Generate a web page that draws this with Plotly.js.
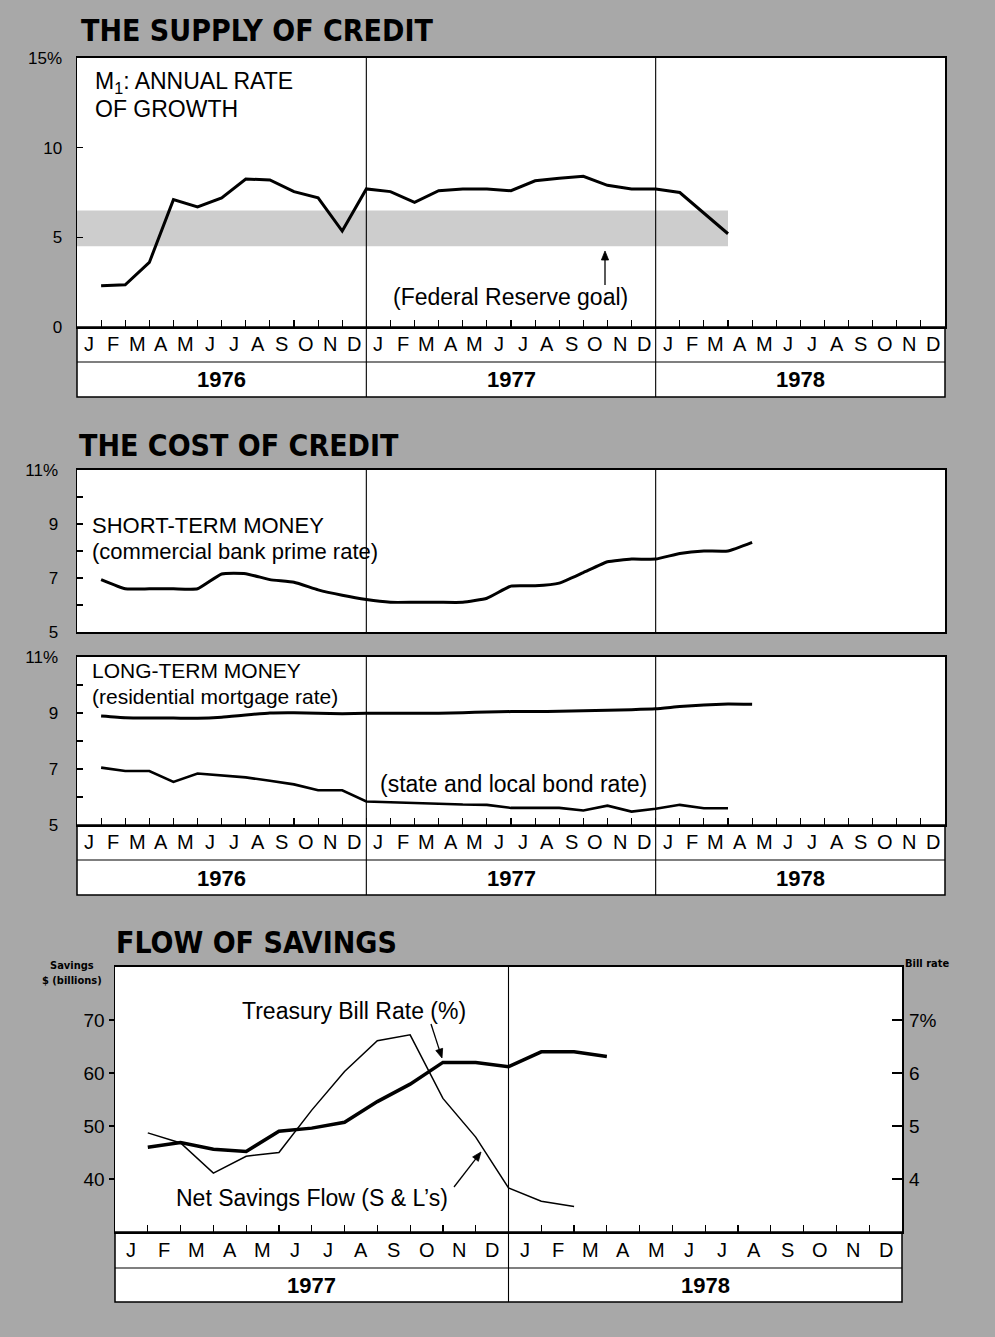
<!DOCTYPE html>
<html>
<head>
<meta charset="utf-8">
<script src="https://cdn.plot.ly/plotly-3.0.1.min.js"></script>
<style>html,body{margin:0;padding:0;background:#a8a8a8;}#chart{width:995px;height:1337px;}</style>
</head>
<body>
<div id="chart"></div>
<script>
// ---------- DATA ----------
const MONTHS = ['J','F','M','A','M','J','J','A','S','O','N','D'];
const YEARS_CREDIT = ['1976','1977','1978'];
const YEARS_SAVINGS = ['1977','1978'];

// M1 annual rate of growth (%), monthly from Jan 1976
const M1_GROWTH = [2.3,2.35,3.6,7.1,6.7,7.2,8.25,8.2,7.55,7.2,5.35,7.7,
                   7.55,6.95,7.6,7.7,7.7,7.6,8.15,8.3,8.4,7.9,7.7,7.7,
                   7.5,6.35,5.2];
const FED_GOAL = [4.5, 6.5];

// Commercial bank prime rate (%), from Jan 1976
const PRIME_RATE = [6.94,6.6,6.6,6.6,6.6,7.15,7.16,6.94,6.84,6.56,6.36,6.2,
                    6.1,6.1,6.1,6.1,6.25,6.7,6.71,6.81,7.2,7.6,7.7,7.7,
                    7.91,8.0,8.0,8.32];
// Residential mortgage rate (%), from Jan 1976
const MORTGAGE_RATE = [8.89,8.83,8.82,8.82,8.81,8.85,8.93,9.0,9.01,8.99,8.97,8.99,
                       8.99,8.99,8.99,9.01,9.04,9.05,9.05,9.06,9.08,9.1,9.12,9.15,
                       9.23,9.29,9.32,9.31];
// State and local bond rate (%), from Jan 1976
const BOND_RATE = [7.05,6.93,6.93,6.54,6.84,6.78,6.7,6.58,6.45,6.24,6.24,5.84,
                   5.82,5.78,5.76,5.73,5.72,5.61,5.61,5.61,5.52,5.69,5.48,5.58,
                   5.72,5.6,5.6];

// Flow of savings, from Jan 1977
const BILL_RATE = [4.6,4.69,4.56,4.52,4.9,4.96,5.07,5.46,5.79,6.2,6.2,6.12,
                   6.4,6.4,6.31];
const SAVINGS_FLOW = [48.7,46.8,41.1,44.3,45.0,53.0,60.3,66.1,67.2,55.2,47.9,38.3,
                      35.8,34.8];

// ---------- LAYOUT HELPERS ----------
const W = 995, H = 1337;
const fx = px => px / W;
const fy = py => 1 - py / H;
const FONT = 'Liberation Sans, Arial, sans-serif';
const COND = 'DejaVu Sans Condensed, Liberation Sans, sans-serif';
const endOfMonth = arr => arr.map((_, i) => i + 1);

function xa(domain, anchor, n, withTicks) {
  return {
    domain: domain, anchor: anchor, range: [0, n],
    tickmode: 'array', tickvals: Array.from({length: n + 1}, (_, i) => i),
    showticklabels: false, ticks: withTicks ? 'inside' : '', ticklen: 7, tickwidth: 1.2, tickcolor: '#000',
    showline: true, linewidth: 2, linecolor: '#000', mirror: true,
    showgrid: false, zeroline: false, fixedrange: true
  };
}
function ya(domain, anchor, range, vals, text, opts) {
  return Object.assign({
    domain: domain, anchor: anchor, range: range,
    tickmode: 'array', tickvals: vals, ticktext: text,
    ticks: 'inside', ticklen: 6, tickwidth: 1.2, tickcolor: '#000',
    tickfont: {family: FONT, size: 17, color: '#000'},
    showline: true, linewidth: 1.5, linecolor: '#000', mirror: true,
    showgrid: false, zeroline: false, fixedrange: true
  }, opts || {});
}
const minorInside = {tickmode: 'linear', tick0: 5, dtick: 1, ticks: 'inside', ticklen: 6, tickwidth: 1.2, tickcolor: '#000', showgrid: false};

const P1 = {l: 77, r: 945, t: 58, b: 327, rowMid: 344, rowSep: 362, yearMid: 380, rowBot: 397};
const P2 = {l: 77, r: 945, t: 470, b: 632};
const P3 = {l: 77, r: 945, t: 657, b: 825, rowMid: 842, rowSep: 860, yearMid: 878, rowBot: 895};
const P4 = {l: 115, r: 902, t: 967, b: 1232, rowMid: 1250, rowSep: 1268, yearMid: 1285, rowBot: 1302};

// ---------- TRACES ----------
const traces = [
  {x: endOfMonth(M1_GROWTH), y: M1_GROWTH, xaxis: 'x', yaxis: 'y', mode: 'lines',
   line: {color: '#000', width: 3}, hoverinfo: 'skip'},
  {x: endOfMonth(PRIME_RATE), y: PRIME_RATE, xaxis: 'x2', yaxis: 'y2', mode: 'lines',
   line: {color: '#000', width: 3, shape: 'spline', smoothing: 0.4}, hoverinfo: 'skip'},
  {x: endOfMonth(MORTGAGE_RATE), y: MORTGAGE_RATE, xaxis: 'x3', yaxis: 'y3', mode: 'lines',
   line: {color: '#000', width: 3, shape: 'spline', smoothing: 0.4}, hoverinfo: 'skip'},
  {x: endOfMonth(BOND_RATE), y: BOND_RATE, xaxis: 'x3', yaxis: 'y3', mode: 'lines',
   line: {color: '#000', width: 2.6}, hoverinfo: 'skip'},
  {x: endOfMonth(SAVINGS_FLOW), y: SAVINGS_FLOW, xaxis: 'x4', yaxis: 'y4', mode: 'lines',
   line: {color: '#000', width: 1.5}, hoverinfo: 'skip'},
  {x: endOfMonth(BILL_RATE), y: BILL_RATE, xaxis: 'x4', yaxis: 'y5', mode: 'lines',
   line: {color: '#000', width: 3.5}, hoverinfo: 'skip'}
];

// ---------- SHAPES ----------
const shapes = [];
// Federal Reserve goal band
shapes.push({type: 'rect', xref: 'x', yref: 'y', x0: 0, x1: M1_GROWTH.length,
  y0: FED_GOAL[0], y1: FED_GOAL[1], fillcolor: '#cdcdcd', line: {width: 0}, layer: 'below'});

function rows(P) {
  shapes.push({type: 'rect', xref: 'paper', yref: 'paper', x0: fx(P.l), x1: fx(P.r),
    y0: fy(P.rowBot), y1: fy(P.b), fillcolor: '#fff', line: {color: '#000', width: 1.5}, layer: 'below'});
  shapes.push({type: 'line', xref: 'paper', yref: 'paper', x0: fx(P.l), x1: fx(P.r),
    y0: fy(P.rowSep), y1: fy(P.rowSep), line: {color: '#000', width: 1.2}});
}
rows(P1); rows(P3); rows(P4);

function dividers(xref, nYears, top, bot) {
  for (let i = 1; i < nYears; i++) {
    shapes.push({type: 'line', xref: xref, yref: 'paper', x0: i * 12, x1: i * 12,
      y0: fy(bot), y1: fy(top), line: {color: '#000', width: 1.1}});
  }
}
dividers('x', YEARS_CREDIT.length, P1.t, P1.rowBot);
dividers('x2', YEARS_CREDIT.length, P2.t, P2.b);
dividers('x3', YEARS_CREDIT.length, P3.t, P3.rowBot);
dividers('x4', YEARS_SAVINGS.length, P4.t, P4.rowBot);

// Pointer arrows (pixel positions on the page: tail -> tip)
function arrow(x0, y0, x1, y1) {
  const dx = x1 - x0, dy = y1 - y0, len = Math.hypot(dx, dy);
  const ux = dx / len, uy = dy / len, hl = 9, hw = 3.6;
  const bx = x1 - ux * hl, by = y1 - uy * hl;
  const p = (x, y) => fx(x).toFixed(5) + ',' + fy(y).toFixed(5);
  shapes.push({type: 'path', xref: 'paper', yref: 'paper',
    path: 'M' + p(x0, y0) + ' L' + p(bx + ux * 2, by + uy * 2), line: {color: '#000', width: 1.3}});
  shapes.push({type: 'path', xref: 'paper', yref: 'paper',
    path: 'M' + p(x1, y1) + ' L' + p(bx - uy * hw, by + ux * hw) + ' L' + p(bx + uy * hw, by - ux * hw) + ' Z',
    fillcolor: '#000', line: {color: '#000', width: 0.8}});
}
arrow(605, 285, 605, 251);
arrow(431, 1024, 442, 1058);
arrow(454, 1187, 481, 1152);

// ---------- ANNOTATIONS ----------
const annotations = [];
function monthYearLabels(xref, years, P) {
  years.forEach((yr, yi) => {
    MONTHS.forEach((m, mi) => {
      annotations.push({xref: xref, yref: 'paper', x: yi * 12 + mi + 0.5, y: fy(P.rowMid),
        text: m, showarrow: false, xanchor: 'center', yanchor: 'middle',
        font: {family: FONT, size: 20, color: '#000'}});
    });
    annotations.push({xref: xref, yref: 'paper', x: yi * 12 + 6, y: fy(P.yearMid),
      text: '<b>' + yr + '</b>', showarrow: false, xanchor: 'center', yanchor: 'middle',
      font: {family: FONT, size: 22, color: '#000'}});
  });
}
monthYearLabels('x', YEARS_CREDIT, P1);
monthYearLabels('x3', YEARS_CREDIT, P3);
monthYearLabels('x4', YEARS_SAVINGS, P4);

function txt(text, px, py, opts) {
  annotations.push(Object.assign({xref: 'paper', yref: 'paper', x: fx(px), y: fy(py), text: text,
    showarrow: false, xanchor: 'left', yanchor: 'middle', align: 'left', borderpad: 0,
    font: {family: FONT, size: 23, color: '#000'}}, opts || {}));
}
const f21 = {font: {family: FONT, size: 21, color: '#000'}};
const f22 = {font: {family: FONT, size: 22, color: '#000'}};
// Section titles
const titleFont = {family: COND, size: 30, color: '#000'};
txt('<b>THE SUPPLY OF CREDIT</b>', 80, 31, {font: titleFont});
txt('<b>THE COST OF CREDIT</b>', 78, 446, {font: titleFont});
txt('<b>FLOW OF SAVINGS</b>', 115, 942, {font: titleFont});

// Panel labels
txt('M<sub>1</sub>: ANNUAL RATE', 94, 83);
txt('OF GROWTH', 94, 109);
txt('(Federal Reserve goal)', 510, 297, {xanchor: 'center'});
txt('SHORT-TERM MONEY', 91, 525, f22);
txt('(commercial bank prime rate)', 91, 551, f22);
txt('LONG-TERM MONEY', 91, 670, f21);
txt('(residential mortgage rate)', 91, 696, f21);
txt('(state and local bond rate)', 379, 784);
txt('Treasury Bill Rate (%)', 354, 1011, {xanchor: 'center'});
txt('Net Savings Flow (S &amp; L\u2019s)', 312, 1198, {xanchor: 'center'});
txt('<b>Savings</b>', 72, 965, {xanchor: 'center', font: {family: COND, size: 11, color: '#000'}});
txt('<b>$ (billions)</b>', 72, 980, {xanchor: 'center', font: {family: COND, size: 11, color: '#000'}});
txt('<b>Bill rate</b>', 927, 963, {xanchor: 'center', font: {family: COND, size: 11, color: '#000'}});

// ---------- LAYOUT ----------
const layout = {
  width: W, height: H,
  margin: {l: 0, r: 0, t: 0, b: 0},
  paper_bgcolor: '#a8a8a8',
  plot_bgcolor: '#ffffff',
  showlegend: false,
  font: {family: FONT, color: '#000'},
  xaxis: xa([fx(P1.l), fx(P1.r)], 'y', 36, true),
  yaxis: ya([fy(P1.b), fy(P1.t)], 'x', [0, 15], [0, 5, 10, 15], ['0', '5', '10', '15%'],
            {ticklabelstandoff: 10}),
  xaxis2: xa([fx(P2.l), fx(P2.r)], 'y2', 36, false),
  yaxis2: ya([fy(P2.b), fy(P2.t)], 'x2', [5, 11], [5, 7, 9, 11], ['5', '7', '9', '11%'],
             {ticklabelstandoff: 14, minor: minorInside}),
  xaxis3: xa([fx(P3.l), fx(P3.r)], 'y3', 36, true),
  yaxis3: ya([fy(P3.b), fy(P3.t)], 'x3', [5, 11], [5, 7, 9, 11], ['5', '7', '9', '11%'],
             {ticklabelstandoff: 14, minor: minorInside}),
  xaxis4: xa([fx(P4.l), fx(P4.r)], 'y4', 24, true),
  yaxis4: ya([fy(P4.b), fy(P4.t)], 'x4', [30, 80], [40, 50, 60, 70], ['40', '50', '60', '70'],
             {ticks: 'outside', ticklen: 5, tickfont: {family: FONT, size: 19, color: '#000'}}),
  yaxis5: {overlaying: 'y4', anchor: 'x4', side: 'right', range: [3, 8],
           tickmode: 'array', tickvals: [4, 5, 6, 7], ticktext: ['4', '5', '6', '7%'],
           ticks: 'inside', ticklen: 10, tickwidth: 1.2, tickcolor: '#000', ticklabelstandoff: 6,
           tickfont: {family: FONT, size: 19, color: '#000'},
           showline: false, showgrid: false, zeroline: false, fixedrange: true},
  shapes: shapes,
  annotations: annotations
};

Plotly.newPlot('chart', traces, layout, {staticPlot: true, displayModeBar: false});
</script>
</body>
</html>
